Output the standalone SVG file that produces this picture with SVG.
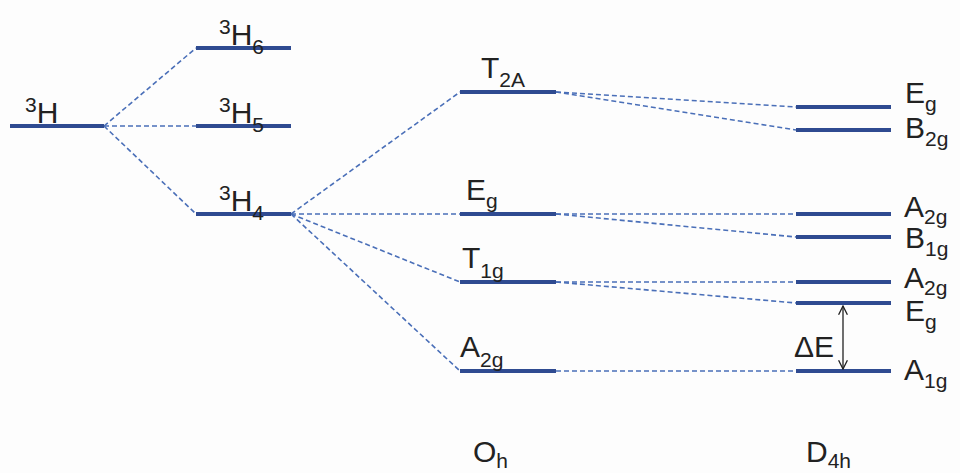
<svg xmlns="http://www.w3.org/2000/svg" width="960" height="473" viewBox="0 0 960 473">
<defs>
<style>
.lvl{stroke:#2f4b91;stroke-width:4;fill:none}
.con{stroke:#4a6fb8;stroke-width:1.6;stroke-dasharray:5 3;fill:none}
.t{font-family:"Liberation Sans",Arial,sans-serif;fill:#222;font-size:30px}
.s{font-size:21px}
</style>
<marker id="ah" viewBox="0 0 10 10" refX="9" refY="5" markerWidth="11" markerHeight="11" markerUnits="userSpaceOnUse" orient="auto-start-reverse">
<path d="M1,1 L9,5 L1,9" fill="none" stroke="#222" stroke-width="1.2"/>
</marker>
</defs>
<rect width="960" height="473" fill="#fdfdfd"/>
<g id="connectors">
<line class="con" x1="104" y1="126" x2="196" y2="48"/>
<line class="con" x1="104" y1="126" x2="196" y2="126"/>
<line class="con" x1="104" y1="126" x2="196" y2="214"/>
<line class="con" x1="291" y1="214" x2="460" y2="92"/>
<line class="con" x1="291" y1="214" x2="460" y2="214"/>
<line class="con" x1="291" y1="214" x2="460" y2="282"/>
<line class="con" x1="291" y1="214" x2="460" y2="371"/>
<line class="con" x1="556" y1="92" x2="796" y2="107"/>
<line class="con" x1="556" y1="92" x2="796" y2="130"/>
<line class="con" x1="556" y1="214" x2="796" y2="214"/>
<line class="con" x1="556" y1="214" x2="796" y2="237"/>
<line class="con" x1="556" y1="282" x2="796" y2="282"/>
<line class="con" x1="556" y1="282" x2="796" y2="303"/>
<line class="con" x1="556" y1="371" x2="796" y2="371"/>
</g>
<g id="n3H"><line class="lvl" x1="10" y1="126" x2="104" y2="126"/><text class="t" x="25" y="123"><tspan class="s" dy="-11">3</tspan><tspan dy="11">H</tspan></text></g>
<g id="n3H6"><line class="lvl" x1="196" y1="48" x2="291" y2="48"/><text class="t" x="219" y="45"><tspan class="s" dy="-11">3</tspan><tspan dy="11">H</tspan><tspan class="s" dy="9">6</tspan></text></g>
<g id="n3H5"><line class="lvl" x1="196" y1="126" x2="291" y2="126"/><text class="t" x="219" y="123"><tspan class="s" dy="-11">3</tspan><tspan dy="11">H</tspan><tspan class="s" dy="9">5</tspan></text></g>
<g id="n3H4"><line class="lvl" x1="196" y1="214" x2="291" y2="214"/><text class="t" x="219" y="211"><tspan class="s" dy="-11">3</tspan><tspan dy="11">H</tspan><tspan class="s" dy="9">4</tspan></text></g>
<g id="nT2A"><line class="lvl" x1="460" y1="92" x2="556" y2="92"/><text class="t" x="481" y="78">T<tspan class="s" dy="9">2A</tspan></text></g>
<g id="nEg"><line class="lvl" x1="460" y1="214" x2="556" y2="214"/><text class="t" x="466" y="200">E<tspan class="s" dy="8">g</tspan></text></g>
<g id="nT1g"><line class="lvl" x1="460" y1="282" x2="556" y2="282"/><text class="t" x="462" y="268">T<tspan class="s" dy="10">1g</tspan></text></g>
<g id="nA2g"><line class="lvl" x1="460" y1="371" x2="556" y2="371"/><text class="t" x="460" y="357">A<tspan class="s" dy="10">2g</tspan></text></g>
<g id="dEg"><line class="lvl" x1="796" y1="107" x2="891" y2="107"/><text class="t" x="905" y="103">E<tspan class="s" dy="8">g</tspan></text></g>
<g id="dB2g"><line class="lvl" x1="796" y1="130" x2="891" y2="130"/><text class="t" x="905" y="138">B<tspan class="s" dy="8">2g</tspan></text></g>
<g id="dA2g1"><line class="lvl" x1="796" y1="214" x2="891" y2="214"/><text class="t" x="904" y="217">A<tspan class="s" dy="7">2g</tspan></text></g>
<g id="dB1g"><line class="lvl" x1="796" y1="237" x2="891" y2="237"/><text class="t" x="905" y="248">B<tspan class="s" dy="8">1g</tspan></text></g>
<g id="dA2g2"><line class="lvl" x1="796" y1="282" x2="891" y2="282"/><text class="t" x="904" y="288">A<tspan class="s" dy="7">2g</tspan></text></g>
<g id="dEg2"><line class="lvl" x1="796" y1="303" x2="891" y2="303"/><text class="t" x="905" y="321">E<tspan class="s" dy="8">g</tspan></text></g>
<g id="dA1g"><line class="lvl" x1="796" y1="371" x2="891" y2="371"/><text class="t" x="904" y="380">A<tspan class="s" dy="8">1g</tspan></text></g>
<g id="deltaE"><line x1="843" y1="306" x2="843" y2="369" stroke="#222" stroke-width="1.3" marker-start="url(#ah)" marker-end="url(#ah)"/><text class="t" x="794" y="357">ΔE</text></g>
<g id="Oh"><text class="t" x="473" y="462">O<tspan class="s" dy="6">h</tspan></text></g>
<g id="D4h"><text class="t" x="806" y="462">D<tspan class="s" dy="6">4h</tspan></text></g>
</svg>
